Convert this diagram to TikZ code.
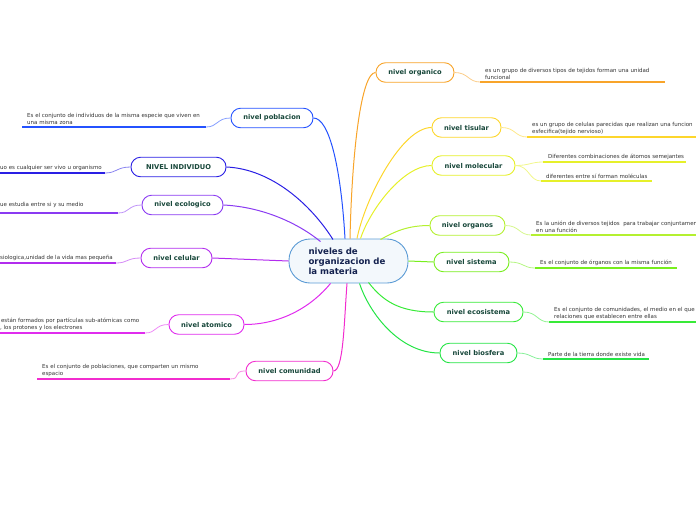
\documentclass[tikz,border=0pt]{standalone}
\usepackage{fontspec}
\setmainfont{DejaVu Sans}
\usetikzlibrary{calc}
\definecolor{cCentral}{HTML}{5B9BD5}
\definecolor{cCentralFill}{HTML}{F3F8FC}
\definecolor{cCentralText}{HTML}{14224F}
\definecolor{cNodeText}{HTML}{17473A}
\definecolor{cLeafText}{HTML}{333333}
\definecolor{cOrg}{HTML}{F8A42A}
\definecolor{cTis}{HTML}{FDD62C}
\definecolor{cMol}{HTML}{E6F02A}
\definecolor{cOrgs}{HTML}{B4F030}
\definecolor{cSis}{HTML}{78EE1E}
\definecolor{cEco}{HTML}{38EA38}
\definecolor{cBio}{HTML}{24E445}
\definecolor{cPob}{HTML}{2452FF}
\definecolor{cInd}{HTML}{2A1FE4}
\definecolor{cEcl}{HTML}{8A3AF2}
\definecolor{cCel}{HTML}{B22CEE}
\definecolor{cAto}{HTML}{E02CEE}
\definecolor{cCom}{HTML}{F22CCE}
\begin{document}
\begin{tikzpicture}[x=1pt,y=-1pt,
  lvl/.style={draw=#1, fill=white, line width=0.9pt, rounded corners=9.5pt,
    minimum height=19.5pt, inner sep=0pt,
    font=\fontsize{6.7}{8}\selectfont\bfseries, text=cNodeText},
  leaf/.style={align=left, inner xsep=5pt, inner ysep=1.8pt, anchor=south west,
    font=\fontsize{5.5}{7}\selectfont, text=cLeafText},
  link/.style={draw=#1, line width=1pt},
  twig/.style={draw=#1!55, line width=0.8pt},
  uline/.style={draw=#1, line width=1.4pt}]
\useasboundingbox (0,0) rectangle (696,520);

% central
\node[draw=cCentral, fill=cCentralFill, line width=0.9pt, rounded corners=21pt,
  minimum width=119pt, minimum height=44pt, inner sep=0pt, align=left,
  text width=80pt, font=\fontsize{8.6}{10}\selectfont\bfseries, text=cCentralText]
  (c) at (348.5,261) {niveles de\\organizacion de\\la materia};

% level nodes
\node[lvl=cOrg,  minimum width=78pt] (org) at (415,72.5) {nivel organico};
\node[lvl=cTis,  minimum width=69pt] (tis) at (466.5,127.5) {nivel tisular};
\node[lvl=cMol,  minimum width=83pt] (mol) at (473.5,165.5) {nivel molecular};
\node[lvl=cOrgs, minimum width=75pt] (ogs) at (467.5,225.5) {nivel organos};
\node[lvl=cSis,  minimum width=75pt] (sis) at (471.5,262) {nivel sistema};
\node[lvl=cEco,  minimum width=89pt] (eco) at (478.5,312) {nivel ecosistema};
\node[lvl=cBio,  minimum width=77pt] (bio) at (478.5,353) {nivel biosfera};
\node[lvl=cPob,  minimum width=82pt] (pob) at (272,118) {nivel poblacion};
\node[lvl=cInd,  minimum width=95pt] (ind) at (178.5,167) {NIVEL INDIVIDUO};
\node[lvl=cEcl,  minimum width=81pt] (ecl) at (182.5,205) {nivel ecologico};
\node[lvl=cCel,  minimum width=71pt] (cel) at (176.5,258) {nivel celular};
\node[lvl=cAto,  minimum width=75pt] (ato) at (206.5,324.5) {nivel atomico};
\node[lvl=cCom,  minimum width=87pt] (com) at (289.5,371) {nivel comunidad};

% main connectors
\draw[link=cOrg]  (org.west) .. controls +(-14,0) and +(2,-90) .. ($(c.north)+(1.5,0)$);
\draw[link=cTis]  (tis.west) .. controls +(-30,0) and +(8,-40) .. ($(c.north)+(8.5,0)$);
\draw[link=cMol]  (mol.west) .. controls +(-28,0) and +(10,-30) .. ($(c.north)+(12,0)$);
\draw[link=cOrgs] (ogs.west) .. controls +(-22,0) and +(14,-8) .. ($(c.north)+(32,1)$);
\draw[link=cSis]  (sis.west) -- (c.east);
\draw[link=cEco]  (eco.west) .. controls +(-35,0) and +(14,18) .. ($(c.south)+(20,-1)$);
\draw[link=cBio]  (bio.west) .. controls +(-40,0) and +(10,30) .. ($(c.south)+(11,0)$);
\draw[link=cPob]  (pob.east) .. controls +(16,0) and +(-4,-70) .. ($(c.north)+(-3.5,0)$);
\draw[link=cInd]  (ind.east) .. controls +(45,2) and +(-22,-35) .. ($(c.north)+(-15.5,1)$);
\draw[link=cEcl]  (ecl.east) .. controls +(40,2) and +(-22,-18) .. ($(c.north)+(-28,3)$);
\draw[link=cCel]  (cel.east) -- (c.west);
\draw[link=cAto]  (ato.east) .. controls +(38,0) and +(-18,22) .. ($(c.south)+(-18,0)$);
\draw[link=cCom]  (com.east) .. controls +(10,0) and +(-3,40) .. ($(c.south)+(-1.5,0)$);

% leaves: right side
\coordinate (aOrg) at (480,82);  \coordinate (bOrg) at (665,82);
\node[leaf] (tOrg) at (aOrg) {es un grupo de diversos tipos de tejidos forman una unidad\\funcional};
\draw[twig=cOrg] (org.east) .. controls +(14,0) and +(-12,0) .. (aOrg);
\draw[uline=cOrg] (aOrg) -- (bOrg);

\coordinate (aTis) at (527,137);  \coordinate (bTis) at (700,137);
\node[leaf] (tTis) at (aTis) {es un grupo de celulas parecidas que realizan una funcion\\esfecifica(tejido nervioso)};
\draw[twig=cTis] (tis.east) .. controls +(14,0) and +(-12,0) .. (aTis);
\draw[uline=cTis] (aTis) -- (bTis);

\coordinate (aMolA) at (543,162);  \coordinate (bMolA) at (686,162);
\node[leaf] (tMolA) at (aMolA) {Diferentes combinaciones de átomos semejantes};
\draw[twig=cMol] (mol.east) .. controls +(14,0) and +(-12,0) .. (aMolA);
\draw[uline=cMol] (aMolA) -- (bMolA);

\coordinate (aMolB) at (541,181);  \coordinate (bMolB) at (652,181);
\node[leaf] (tMolB) at (aMolB) {diferentes entre sí forman moléculas};
\draw[twig=cMol] (mol.east) .. controls +(14,0) and +(-12,0) .. (aMolB);
\draw[uline=cMol] (aMolB) -- (bMolB);

\coordinate (aOgs) at (531,235);  \coordinate (bOgs) at (700,235);
\node[leaf] (tOgs) at (aOgs) {Es la unión de diversos tejidos \ para trabajar conjuntamen\\en una función};
\draw[twig=cOrgs] (ogs.east) .. controls +(14,0) and +(-12,0) .. (aOgs);
\draw[uline=cOrgs] (aOgs) -- (bOgs);

\coordinate (aSis) at (535,268);  \coordinate (bSis) at (677,268);
\node[leaf] (tSis) at (aSis) {Es el conjunto de órganos con la misma función};
\draw[twig=cSis] (sis.east) .. controls +(14,0) and +(-12,0) .. (aSis);
\draw[uline=cSis] (aSis) -- (bSis);

\coordinate (aEco) at (549,322);  \coordinate (bEco) at (700,322);
\node[leaf] (tEco) at (aEco) {Es el conjunto de comunidades, el medio en el que\\relaciones que establecen entre ellas};
\draw[twig=cEco] (eco.east) .. controls +(14,0) and +(-12,0) .. (aEco);
\draw[uline=cEco] (aEco) -- (bEco);

\coordinate (aBio) at (543,359);  \coordinate (bBio) at (649,359);
\node[leaf] (tBio) at (aBio) {Parte de la tierra donde existe vida};
\draw[twig=cBio] (bio.east) .. controls +(14,0) and +(-12,0) .. (aBio);
\draw[uline=cBio] (aBio) -- (bBio);

% leaves: left side
\coordinate (aPob) at (22,127);  \coordinate (bPob) at (206,127);
\node[leaf] (tPob) at (aPob) {Es el conjunto de individuos de la misma especie que viven en\\una misma zona};
\draw[twig=cPob] (pob.west) .. controls +(-14,0) and +(12,0) .. (bPob);
\draw[uline=cPob] (aPob) -- (bPob);

\coordinate (aInd) at (-5,173);  \coordinate (bInd) at (105,173);
\node[leaf] (tInd) at (aInd) {uo es cualquier ser vivo u organismo};
\draw[twig=cInd] (ind.west) .. controls +(-14,0) and +(12,0) .. (bInd);
\draw[uline=cInd] (aInd) -- (bInd);

\coordinate (aEcl) at (-5,213);  \coordinate (bEcl) at (118,213);
\node[leaf, inner ysep=5pt] (tEcl) at (aEcl) {ue estudia entre si y su medio};
\draw[twig=cEcl] (ecl.west) .. controls +(-14,0) and +(12,0) .. (bEcl);
\draw[uline=cEcl] (aEcl) -- (bEcl);

\coordinate (aCel) at (-5,263);  \coordinate (bCel) at (116,263);
\node[leaf] (tCel) at (aCel) {siologica,unidad de la vida mas pequeña};
\draw[twig=cCel] (cel.west) .. controls +(-14,0) and +(12,0) .. (bCel);
\draw[uline=cCel] (aCel) -- (bCel);

\coordinate (aAto) at (-5,333);  \coordinate (bAto) at (145,333);
\node[leaf] (tAto) at (aAto) {\,están formados por partículas sub-atómicas como\\, los protones y los electrones};
\draw[twig=cAto] (ato.west) .. controls +(-14,0) and +(12,0) .. (bAto);
\draw[uline=cAto] (aAto) -- (bAto);

\coordinate (aCom) at (37,379);  \coordinate (bCom) at (230,379);
\node[leaf] (tCom) at (aCom) {Es el conjunto de poblaciones, que comparten un mismo\\espacio};
\draw[twig=cCom] (com.west) .. controls +(-14,0) and +(12,0) .. (bCom);
\draw[uline=cCom] (aCom) -- (bCom);
\end{tikzpicture}
\end{document}
